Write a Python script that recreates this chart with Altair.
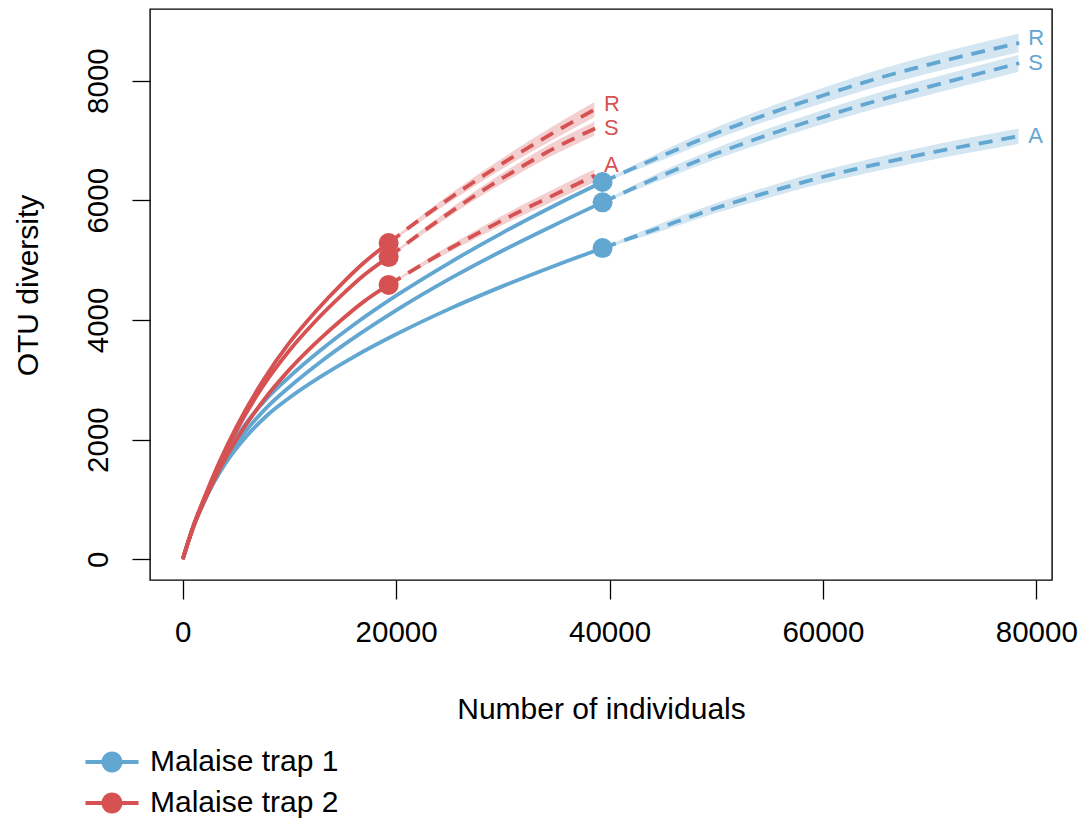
import altair as alt
import pandas as pd

traps = ["Malaise trap 1", "Malaise trap 2"]
colors = ["#62A6D2", "#D65252"]

# ---- Malaise trap 1 (blue): rarefaction (solid) ----
t1_rare_n = [0, 1000, 2000, 4000, 6000, 8000, 10000, 13000, 16000, 20000, 25000, 30000, 35000, 39350]
t1_R_rare = [0, 550, 990, 1740, 2290, 2710, 3050, 3505, 3915, 4405, 4955, 5460, 5925, 6305]
t1_S_rare = [0, 545, 970, 1650, 2160, 2560, 2880, 3310, 3695, 4160, 4685, 5160, 5600, 5965]
t1_A_rare = [0, 540, 960, 1600, 2060, 2420, 2700, 3060, 3380, 3760, 4185, 4565, 4915, 5200]

# ---- Malaise trap 1 (blue): extrapolation (dashed) with band half-widths ----
t1_ext_n = [39350, 45000, 50000, 55000, 60000, 65000, 70000, 78400]
t1_R_ext = [6305, 6750, 7120, 7450, 7750, 8030, 8270, 8630]
t1_S_ext = [5965, 6420, 6780, 7100, 7390, 7660, 7900, 8290]
t1_A_ext = [5200, 5560, 5870, 6140, 6390, 6600, 6790, 7070]
t1_R_hw = [30, 90, 110, 125, 140, 150, 160, 170]
t1_S_hw = [30, 85, 105, 120, 130, 140, 148, 155]
t1_A_hw = [25, 80, 95, 110, 120, 128, 135, 140]

# ---- Malaise trap 2 (red): rarefaction (solid) ----
t2_rare_n = [0, 1000, 2000, 3500, 5000, 7500, 10000, 12500, 15000, 17000, 19300]
t2_R_rare = [0, 560, 1020, 1650, 2200, 2980, 3620, 4150, 4620, 4960, 5285]
t2_S_rare = [0, 555, 1000, 1610, 2140, 2890, 3490, 3990, 4430, 4750, 5050]
t2_A_rare = [0, 540, 960, 1520, 1990, 2640, 3170, 3620, 4020, 4310, 4585]

# ---- Malaise trap 2 (red): extrapolation (dashed) with band half-widths ----
t2_ext_n = [19300, 22000, 25000, 28000, 31000, 34000, 38650]
t2_R_ext = [5285, 5650, 6030, 6390, 6730, 7050, 7520]
t2_S_ext = [5050, 5410, 5790, 6150, 6480, 6790, 7200]
t2_A_ext = [4585, 4880, 5190, 5480, 5760, 6020, 6415]
t2_R_hw = [25, 60, 80, 95, 110, 125, 140]
t2_S_hw = [25, 55, 75, 90, 105, 118, 130]
t2_A_hw = [20, 50, 70, 85, 98, 110, 122]

rows = []


def add(trap, curve, part, ns, ys, hw=None):
    for i, (n, y) in enumerate(zip(ns, ys)):
        h = hw[i] if hw else 0
        rows.append(dict(trap=trap, curve=curve, part=part,
                         key=f"{trap}-{curve}-{part}", n=n, y=y, lo=y - h, hi=y + h))


add(traps[0], "R", "rare", t1_rare_n, t1_R_rare)
add(traps[0], "S", "rare", t1_rare_n, t1_S_rare)
add(traps[0], "A", "rare", t1_rare_n, t1_A_rare)
add(traps[0], "R", "ext", t1_ext_n, t1_R_ext, t1_R_hw)
add(traps[0], "S", "ext", t1_ext_n, t1_S_ext, t1_S_hw)
add(traps[0], "A", "ext", t1_ext_n, t1_A_ext, t1_A_hw)
add(traps[1], "R", "rare", t2_rare_n, t2_R_rare)
add(traps[1], "S", "rare", t2_rare_n, t2_S_rare)
add(traps[1], "A", "rare", t2_rare_n, t2_A_rare)
add(traps[1], "R", "ext", t2_ext_n, t2_R_ext, t2_R_hw)
add(traps[1], "S", "ext", t2_ext_n, t2_S_ext, t2_S_hw)
add(traps[1], "A", "ext", t2_ext_n, t2_A_ext, t2_A_hw)

df = pd.DataFrame(rows)
rare = df[df.part == "rare"]
ext = df[df.part == "ext"]
dots = rare.loc[rare.groupby("key")["n"].idxmax()]
ends = ext.loc[ext.groupby("key")["n"].idxmax()]

FONT = "Liberation Sans"
FS_TICK = 29.5
FS_TITLE = 30

xscale = alt.Scale(domain=[-3066, 81470], nice=False, zero=False)
yscale = alt.Scale(domain=[-346, 9196], nice=False, zero=False)
# legend scale (explicit domain) and plain scale (data domain, same order/colours)
legend_scale = alt.Scale(domain=traps, range=colors)
plain_scale = alt.Scale(range=colors)

xaxis = alt.Axis(values=[0, 20000, 40000, 60000, 80000], format="d", domain=False, grid=False,
                 tickSize=19, tickWidth=1.3, tickColor="black", labelFontSize=FS_TICK, labelColor="black",
                 labelPadding=19, labelFlush=False, labelOverlap=False,
                 titleFontSize=FS_TITLE, titleFontWeight="normal", titleColor="black",
                 titleBaseline="alphabetic", titleX=451, titleY=138)
yaxis = alt.Axis(values=[0, 2000, 4000, 6000, 8000], format="d", domain=False, grid=False,
                 tickSize=18, tickWidth=1.3, tickColor="black", labelFontSize=FS_TICK, labelColor="black",
                 labelAngle=270, labelAlign="center", labelBaseline="alphabetic", labelPadding=25,
                 labelFlush=False, labelOverlap=False,
                 titleFontSize=FS_TITLE, titleFontWeight="normal", titleColor="black",
                 titleAngle=270, titleAlign="center", titleBaseline="alphabetic",
                 titleX=-113, titleY=276)

X = alt.X("n:Q", scale=xscale, axis=xaxis, title="Number of individuals")


def Y(field):
    return alt.Y(field, scale=yscale, axis=yaxis, title="OTU diversity")


fill_nolegend = alt.Fill("trap:N", scale=plain_scale, legend=None)
stroke_nolegend = alt.Stroke("trap:N", scale=plain_scale, legend=None)

bands = alt.Chart(ext).mark_area(fillOpacity=0.28, stroke="white", strokeWidth=1.5,
                                 interpolate="monotone").encode(
    x=X, y=Y("lo:Q"), y2="hi:Q", fill=fill_nolegend, detail="key:N")

solid = alt.Chart(rare).mark_line(strokeWidth=3.8, interpolate="monotone").encode(
    x=X, y=Y("y:Q"), stroke=stroke_nolegend, detail="key:N", order="n:Q")

dashed = alt.Chart(ext).mark_line(strokeWidth=3.8, strokeDash=[14, 9], interpolate="monotone").encode(
    x=X, y=Y("y:Q"), stroke=stroke_nolegend, detail="key:N", order="n:Q")

# legend symbol: short line with a dot in the middle (fill-only path)
sym_path = ("M-1.77,-0.127L-0.69,-0.127L-0.69,0.127L-1.77,0.127Z"
            "M0.69,-0.127L1.77,-0.127L1.77,0.127L0.69,0.127Z"
            "M0.7,0A0.7,0.7,0,1,1,-0.7,0A0.7,0.7,0,1,1,0.7,0Z")
legend = alt.Legend(title=None, orient="none", legendX=-53, legendY=738, direction="vertical",
                    symbolType=sym_path, symbolSize=900, symbolStrokeWidth=0, symbolOpacity=1,
                    labelFontSize=FS_TITLE, labelFont=FONT, labelColor="black", labelOffset=23,
                    labelLimit=0, rowPadding=11, padding=0, offset=0)

points = alt.Chart(dots).mark_point(filled=True, size=400, opacity=1).encode(
    x=X, y=Y("y:Q"),
    color=alt.Color("trap:N", scale=legend_scale, legend=legend))


def letter_layer(sel, dy):
    return alt.Chart(sel).mark_text(
        align="left", baseline="middle", dx=9, dy=dy, fontSize=22, font=FONT).encode(
        x=X, y=Y("y:Q"), text="curve:N", fill=fill_nolegend)


is_red = ends.trap == traps[1]
lab_redA = letter_layer(ends[is_red & (ends.curve == "A")], -10)
lab_R = letter_layer(ends[ends.curve == "R"], -5)
lab_rest = letter_layer(ends[(ends.curve == "S") | (~is_red & (ends.curve == "A"))], 0)

chart = alt.layer(bands, solid, dashed, points, lab_redA, lab_R, lab_rest).properties(
    width=902, height=571,
    autosize=alt.AutoSizeParams(type="none"),
    padding={"left": 150, "top": 9, "right": 28, "bottom": 242},
).configure(font=FONT).configure_view(stroke="black", strokeWidth=1.4)

chart.save("out.html", embed_options={"renderer": "svg", "actions": False})
